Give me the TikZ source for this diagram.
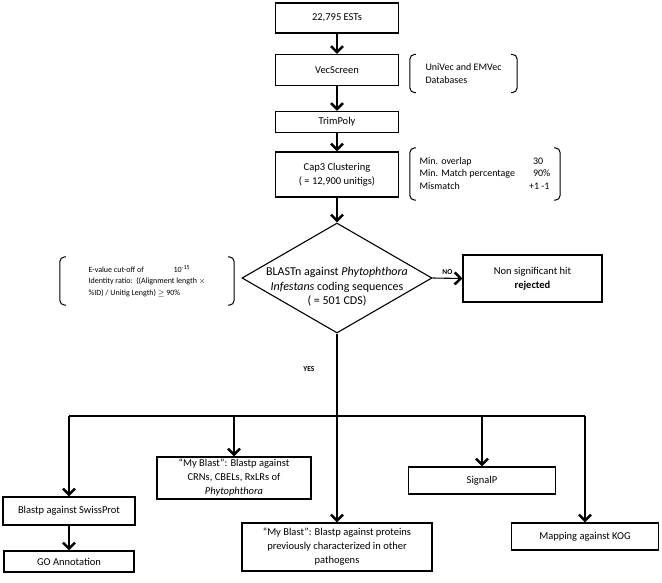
\documentclass[tikz,border=0pt]{standalone}
\usepackage{fontspec}
\setmainfont{Carlito}
\usetikzlibrary{arrows.meta, shapes.geometric}

\begin{document}
\begin{tikzpicture}[x=1pt, y=-1pt,
    >={Straight Barb[length=6pt, width=12pt, line width=2.5pt]},
    box/.style={draw, line width=1.1pt, inner sep=2pt, align=center,
        font=\fontsize{10.5}{14}\selectfont},
    brk/.style={align=left, inner sep=0pt, font=\fontsize{10}{12.5}\selectfont},
    paren/.style={line width=1pt, rounded corners=5pt},
    lbl/.style={font=\fontsize{7.5}{9}\selectfont\bfseries},
    arr/.style={->, line width=1.1pt}]
    \useasboundingbox (0,0) rectangle (662,582);

    % Chuỗi xử lý phía trên
    \node[box, minimum width=123pt, minimum height=30pt] (ests) at (337,18) {22,795 ESTs};
    \node[box, minimum width=123pt, minimum height=31pt] (vec) at (337,70) {VecScreen};
    \node[box, minimum width=123pt, minimum height=21pt] (trim) at (337,122) {TrimPoly};
    \node[box, minimum width=123pt, minimum height=45pt] (cap) at (337,174.5)
        {Cap3 Clustering\\( = 12,900 unitigs)};

    % Các tham số trong ngoặc
    \node[brk, minimum width=107pt, minimum height=38pt] (univec) at (463.5,73.5)
        {UniVec and EMVec\\Databases};
    \node[brk, minimum width=150pt, minimum height=52pt] (params) at (485,174)
        {\begin{tabular}{@{}l@{\hspace{18pt}}l@{}}
            Min. overlap & 30\\
            Min. Match percentage & 90\%\\
            Mismatch & \hspace{-4pt}+1 -1
        \end{tabular}};
    \node[brk, minimum width=174pt, minimum height=48pt, font=\fontsize{8}{11.5}\selectfont]
        (evalue) at (147,281)
        {\makebox[85pt][l]{E-value cut-off of}10\textsuperscript{-15}\\
         Identity ratio:\ \ ((Alignment length \ensuremath{\times}\\
         \%ID) / Unitig Length) \ensuremath{\geq} 90\%};
    \foreach \b in {univec, params, evalue} {
        \draw[paren] ([xshift=6pt]\b.north west) -- (\b.north west)
            -- (\b.south west) -- ([xshift=6pt]\b.south west);
        \draw[paren] ([xshift=-6pt]\b.north east) -- (\b.north east)
            -- (\b.south east) -- ([xshift=-6pt]\b.south east);
    }

    % Hình thoi BLASTn
    \node[draw, diamond, line width=1.1pt, minimum width=190pt, minimum height=110pt,
        inner sep=0pt] (dia) at (337,278) {};
    \node[align=center, font=\fontsize{12}{14.5}\selectfont] (diatxt) at (337,287)
        {BLASTn against \textit{Phytophthora}\\
         \textit{Infestans} coding sequences\\( = 501 CDS)};
    \node[box, minimum width=139pt, minimum height=47pt] (nonsig) at (532.5,278.5)
        {Non significant hit\\\textbf{rejected}};

    % Các nhánh phía dưới
    \node[box, minimum width=132pt, minimum height=28pt] (swiss) at (69,511)
        {Blastp against SwissProt};
    \node[box, minimum width=130pt, minimum height=21pt] (go) at (69,561.5) {GO Annotation};
    \node[box, minimum width=154pt, minimum height=42pt] (crn) at (234,478)
        {“My Blast”: Blastp against\\CRNs, CBELs, RxLRs of\\\textit{Phytophthora}};
    \node[box, minimum width=190pt, minimum height=48pt] (prot) at (337,547)
        {“My Blast”: Blastp against proteins\\previously characterized in other\\pathogens};
    \node[box, minimum width=147pt, minimum height=27pt] (signalp) at (482,480.5) {SignalP};
    \node[box, minimum width=147pt, minimum height=27pt] (kog) at (585,536.5)
        {Mapping against KOG};
    \coordinate (bus) at (337,416);

    % Mũi tên
    \foreach \a/\b in {ests/vec, vec/trim, trim/cap, cap/dia, swiss/go}
        \draw[arr] (\a) -- (\b);
    \draw[arr] (dia.east) -- (nonsig.west) node[lbl, midway, above] (no) {NO};
    \node[lbl] (yes) at (309,369) {YES};
    \draw[line width=1.1pt] (dia.south) -- (bus);
    \draw[line width=1.1pt] (swiss.north |- bus) -- (kog.north |- bus);
    \foreach \n in {swiss, crn, prot, signalp, kog}
        \draw[arr] (\n.north |- bus) -- (\n.north);
\end{tikzpicture}
\end{document}
